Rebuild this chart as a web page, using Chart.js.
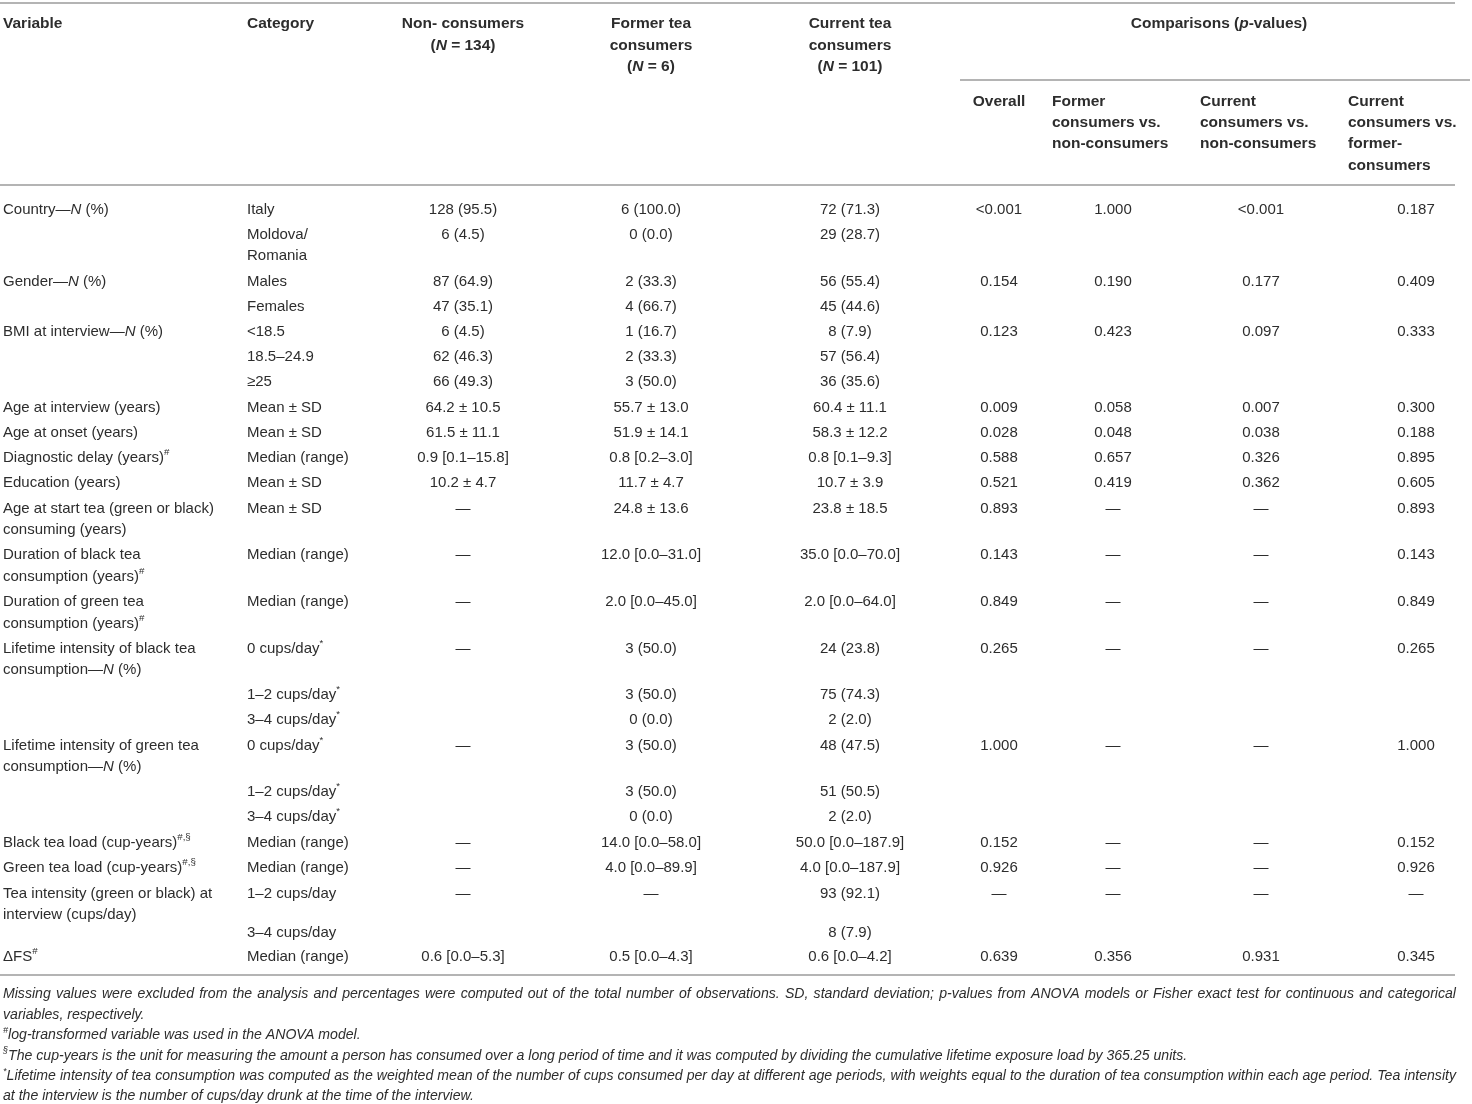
<!DOCTYPE html>
<html>
<head>
<meta charset="utf-8">
<title>Tea consumption table</title>
<script src="https://cdn.jsdelivr.net/npm/chart.js@4.4.1/dist/chart.umd.min.js"></script>
<style>
  html, body { margin: 0; padding: 0; background: #fff; }
  canvas { display: block; }
</style>
</head>
<body>
<canvas id="tableChart" width="1472" height="1104"></canvas>
<script>
// _x_ = italic, ^x^ = superscript
const variableLabels = [
    ["Country—_N_ (%)"], [],
    ["Gender—_N_ (%)"], [],
    ["BMI at interview—_N_ (%)"], [], [],
    ["Age at interview (years)"],
    ["Age at onset (years)"],
    ["Diagnostic delay (years)^#^"],
    ["Education (years)"],
    ["Age at start tea (green or black)", "consuming (years)"],
    ["Duration of black tea", "consumption (years)^#^"],
    ["Duration of green tea", "consumption (years)^#^"],
    ["Lifetime intensity of black tea", "consumption—_N_ (%)"], [], [],
    ["Lifetime intensity of green tea", "consumption—_N_ (%)"], [], [],
    ["Black tea load (cup-years)^#,§^"],
    ["Green tea load (cup-years)^#,§^"],
    ["Tea intensity (green or black) at", "interview (cups/day)"], [],
    ["ΔFS^#^"]
];
const categoryLabels = [
    ["Italy"], ["Moldova/", "Romania"],
    ["Males"], ["Females"],
    ["<18.5"], ["18.5–24.9"], ["≥25"],
    ["Mean ± SD"], ["Mean ± SD"], ["Median (range)"], ["Mean ± SD"],
    ["Mean ± SD"], ["Median (range)"], ["Median (range)"],
    ["0 cups/day^*^"], ["1–2 cups/day^*^"], ["3–4 cups/day^*^"],
    ["0 cups/day^*^"], ["1–2 cups/day^*^"], ["3–4 cups/day^*^"],
    ["Median (range)"], ["Median (range)"],
    ["1–2 cups/day"], ["3–4 cups/day"],
    ["Median (range)"]
];
const nonConsumers = [
    "128 (95.5)", "6 (4.5)", "87 (64.9)", "47 (35.1)", "6 (4.5)", "62 (46.3)", "66 (49.3)",
    "64.2 ± 10.5", "61.5 ± 11.1", "0.9 [0.1–15.8]", "10.2 ± 4.7",
    "—", "—", "—", "—", "", "", "—", "", "", "—", "—", "—", "", "0.6 [0.0–5.3]"
];
const formerConsumers = [
    "6 (100.0)", "0 (0.0)", "2 (33.3)", "4 (66.7)", "1 (16.7)", "2 (33.3)", "3 (50.0)",
    "55.7 ± 13.0", "51.9 ± 14.1", "0.8 [0.2–3.0]", "11.7 ± 4.7",
    "24.8 ± 13.6", "12.0 [0.0–31.0]", "2.0 [0.0–45.0]",
    "3 (50.0)", "3 (50.0)", "0 (0.0)", "3 (50.0)", "3 (50.0)", "0 (0.0)",
    "14.0 [0.0–58.0]", "4.0 [0.0–89.9]", "—", "", "0.5 [0.0–4.3]"
];
const currentConsumers = [
    "72 (71.3)", "29 (28.7)", "56 (55.4)", "45 (44.6)", "8 (7.9)", "57 (56.4)", "36 (35.6)",
    "60.4 ± 11.1", "58.3 ± 12.2", "0.8 [0.1–9.3]", "10.7 ± 3.9",
    "23.8 ± 18.5", "35.0 [0.0–70.0]", "2.0 [0.0–64.0]",
    "24 (23.8)", "75 (74.3)", "2 (2.0)", "48 (47.5)", "51 (50.5)", "2 (2.0)",
    "50.0 [0.0–187.9]", "4.0 [0.0–187.9]", "93 (92.1)", "8 (7.9)", "0.6 [0.0–4.2]"
];
const pOverall = [
    "<0.001", "", "0.154", "", "0.123", "", "", "0.009", "0.028", "0.588", "0.521",
    "0.893", "0.143", "0.849", "0.265", "", "", "1.000", "", "", "0.152", "0.926", "—", "", "0.639"
];
const pFormerVsNon = [
    "1.000", "", "0.190", "", "0.423", "", "", "0.058", "0.048", "0.657", "0.419",
    "—", "—", "—", "—", "", "", "—", "", "", "—", "—", "—", "", "0.356"
];
const pCurrentVsNon = [
    "<0.001", "", "0.177", "", "0.097", "", "", "0.007", "0.038", "0.326", "0.362",
    "—", "—", "—", "—", "", "", "—", "", "", "—", "—", "—", "", "0.931"
];
const pCurrentVsFormer = [
    "0.187", "", "0.409", "", "0.333", "", "", "0.300", "0.188", "0.895", "0.605",
    "0.893", "0.143", "0.849", "0.265", "", "", "1.000", "", "", "0.152", "0.926", "—", "", "0.345"
];

const groupHeaders = [
    ["Non- consumers", "(_N_ = 134)"],
    ["Former tea", "consumers", "(_N_ = 6)"],
    ["Current tea", "consumers", "(_N_ = 101)"]
];
const comparisonTitle = "Comparisons (_p_-values)";
const comparisonHeaders = [
    ["Overall"],
    ["Former", "consumers vs.", "non-consumers"],
    ["Current", "consumers vs.", "non-consumers"],
    ["Current", "consumers vs.", "former-", "consumers"]
];
const footnotes = [
    "Missing values were excluded from the analysis and percentages were computed out of the total number of observations. SD, standard deviation; p-values from ANOVA models or Fisher exact test for continuous and categorical",
    "variables, respectively.",
    "^#^log-transformed variable was used in the ANOVA model.",
    "^§^The cup-years is the unit for measuring the amount a person has consumed over a long period of time and it was computed by dividing the cumulative lifetime exposure load by 365.25 units.",
    "^*^Lifetime intensity of tea consumption was computed as the weighted mean of the number of cups consumed per day at different age periods, with weights equal to the duration of tea consumption within each age period. Tea intensity",
    "at the interview is the number of cups/day drunk at the time of the interview."
];

// layout (page pixels, mapped through the chart scales)
const colVariable = 3, colCategory = 247;
const groupCenters = [463, 651, 850];
const pCenters = [999, 1113, 1261, 1416];
const pHeaderLeft = [null, 1052, 1200, 1348];
const firstRowY = 208;
const rowGaps = [25, 47, 25, 25, 25.5, 25, 25.5, 25, 25.5, 25, 25.5, 46.5, 47, 46.5, 46.5, 25, 25.5, 46.5, 25, 25.5, 25.5, 25.5, 39, 24];
const lineGap = 21.5;
const footnoteJustify = [true, false, false, false, true, false];
const justifyWidth = 1453;
const textShift = 1.5;
const textColor = "#2d2d2d";
const ruleColor = "#b4b4b4";
const fontFamily = '"Liberation Sans", Arial, sans-serif';

function parseRich(text) {
    const parts = [];
    let italic = false, sup = false, buf = "";
    for (const ch of text) {
        if (ch === "_" || ch === "^") {
            if (buf) parts.push({ text: buf, italic, sup });
            buf = "";
            if (ch === "_") italic = !italic; else sup = !sup;
        } else {
            buf += ch;
        }
    }
    if (buf) parts.push({ text: buf, italic, sup });
    return parts;
}

function fontFor(part, base) {
    const size = part.sup ? base.size * 0.65 : base.size;
    const it = (part.italic !== !!base.italic) ? "italic " : "";
    return `${it}${base.weight || "normal"} ${size}px ${fontFamily}`;
}

function drawRich(ctx, text, x, y, align, base, fullWidth) {
    const parts = parseRich(text);
    let total = 0, spaces = 0;
    parts.forEach(p => {
        ctx.font = fontFor(p, base);
        p.w = ctx.measureText(p.text).width;
        total += p.w;
        spaces += (p.text.match(/ /g) || []).length;
    });
    const extra = fullWidth && spaces ? Math.max(0, (fullWidth - total) / spaces) : 0;
    let cx = align === "center" ? x - total / 2 : x;
    parts.forEach(p => {
        ctx.font = fontFor(p, base);
        const ty = (p.sup ? y - base.size * 0.36 : y) + textShift;
        if (!extra) {
            ctx.fillText(p.text, cx, ty);
            cx += p.w;
            return;
        }
        const spaceW = ctx.measureText(" ").width;
        p.text.split(" ").forEach((word, k) => {
            if (k > 0) cx += spaceW + extra;
            ctx.fillText(word, cx, ty);
            cx += ctx.measureText(word).width;
        });
    });
}

const tablePlugin = {
    id: "tablePlugin",
    afterDraw(chart) {
        const ctx = chart.ctx;
        const xs = chart.scales.x, ys = chart.scales.y;
        const px = v => xs.getPixelForValue(v);
        const py = v => ys.getPixelForValue(v);
        const body = { size: 15, weight: "normal" };
        const bold = { size: 15.5, weight: "bold" };
        const note = { size: 14.1, weight: "normal", italic: true };

        ctx.save();
        ctx.textBaseline = "middle";
        ctx.fillStyle = textColor;

        // rules
        ctx.strokeStyle = ruleColor;
        ctx.lineWidth = 2;
        const rule = (x0, x1, y) => {
            ctx.beginPath();
            ctx.moveTo(px(x0), py(y));
            ctx.lineTo(px(x1), py(y));
            ctx.stroke();
        };
        rule(0, 1455, 3);
        rule(960, 1470, 80);
        rule(0, 1455, 185);
        rule(0, 1455, 975);

        // header
        const h1 = 22.5, hGap = 21.3;
        drawRich(ctx, "Variable", px(colVariable), py(h1), "left", bold);
        drawRich(ctx, "Category", px(colCategory), py(h1), "left", bold);
        groupHeaders.forEach((lines, i) => {
            lines.forEach((l, j) => drawRich(ctx, l, px(groupCenters[i]), py(h1 + j * hGap), "center", bold));
        });
        drawRich(ctx, comparisonTitle, px(1219), py(h1), "center", bold);
        const h2 = 100;
        comparisonHeaders.forEach((lines, i) => {
            lines.forEach((l, j) => {
                if (i === 0) drawRich(ctx, l, px(pCenters[0]), py(h2 + j * hGap), "center", bold);
                else drawRich(ctx, l, px(pHeaderLeft[i]), py(h2 + j * hGap), "left", bold);
            });
        });

        // body rows
        let y = firstRowY;
        categoryLabels.forEach((cat, r) => {
            variableLabels[r].forEach((l, j) => drawRich(ctx, l, px(colVariable), py(y + j * lineGap), "left", body));
            cat.forEach((l, j) => drawRich(ctx, l, px(colCategory), py(y + j * lineGap), "left", body));
            [nonConsumers, formerConsumers, currentConsumers].forEach((arr, i) => {
                if (arr[r]) drawRich(ctx, arr[r], px(groupCenters[i]), py(y), "center", body);
            });
            [pOverall, pFormerVsNon, pCurrentVsNon, pCurrentVsFormer].forEach((arr, i) => {
                if (arr[r]) drawRich(ctx, arr[r], px(pCenters[i]), py(y), "center", body);
            });
            if (r < rowGaps.length) y += rowGaps[r];
        });

        // footnotes
        footnotes.forEach((f, i) => {
            drawRich(ctx, f, px(colVariable), py(993 + i * 20.4), "left", note,
                footnoteJustify[i] ? justifyWidth : 0);
        });
        ctx.restore();
    }
};

new Chart(document.getElementById("tableChart").getContext("2d"), {
    type: "scatter",
    data: { datasets: [] },
    options: {
        responsive: false,
        animation: false,
        layout: { padding: 0 },
        plugins: { legend: { display: false }, tooltip: { enabled: false } },
        scales: {
            x: { type: "linear", min: 0, max: 1472, display: false },
            y: { type: "linear", min: 0, max: 1104, reverse: true, display: false }
        }
    },
    plugins: [tablePlugin]
});
</script>
</body>
</html>
